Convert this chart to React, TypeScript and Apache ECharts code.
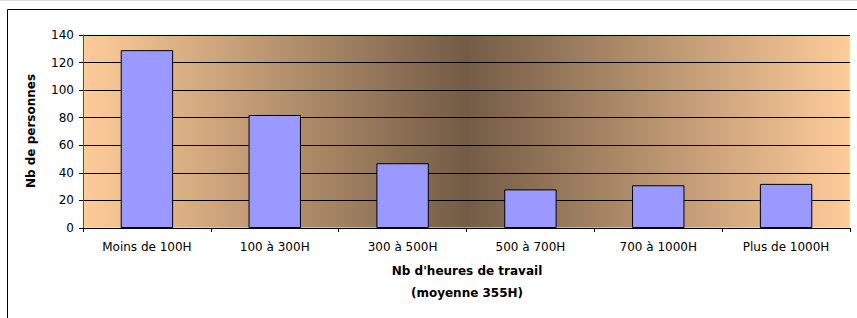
import React, { useEffect, useRef } from "react";
import * as echarts from "echarts";

const categories = ["Moins de 100H", "100 à 300H", "300 à 500H", "500 à 700H", "700 à 1000H", "Plus de 1000H"];
const values = [129, 82, 47, 28, 31, 32];
const yTitle = "Nb de personnes";
const xTitleLines = ["Nb d'heures de travail", "(moyenne 355H)"];

export default function App() {
  const ref = useRef<HTMLDivElement>(null);
  useEffect(() => {
    const chart = echarts.init(ref.current!, null, { renderer: "svg" });
    const font = "'DejaVu Sans', 'Liberation Sans', Arial, sans-serif";
    chart.setOption({
      animation: false,
      backgroundColor: "#ffffff",
      grid: {
        left: 83,
        top: 35,
        right: 7,
        bottom: 90,
        show: true,
        borderColor: "#ccffcc",
        borderWidth: 1,
        backgroundColor: {
          type: "linear",
          x: 0,
          y: 0,
          x2: 1,
          y2: 0,
          colorStops: [
            { offset: 0, color: "#fecc99" },
            { offset: 0.5, color: "#735c46" },
            { offset: 1, color: "#fecc9a" },
          ],
        },
      },
      xAxis: {
        type: "category",
        data: categories,
        axisLine: { lineStyle: { color: "#000", width: 1 } },
        axisTick: { show: true, length: 4, lineStyle: { color: "#000" }, alignWithLabel: false },
        axisLabel: { color: "#000", fontFamily: font, fontSize: 12, margin: 13 },
        splitLine: { show: false },
      },
      yAxis: {
        type: "value",
        min: 0,
        max: 140,
        interval: 20,
        axisLine: { show: true, lineStyle: { color: "#4a5a4a", width: 1 } },
        axisTick: { show: true, length: 4, lineStyle: { color: "#000" } },
        axisLabel: { color: "#000", fontFamily: font, fontSize: 12, margin: 9 },
        splitLine: { show: true, lineStyle: { color: "#000", width: 1 } },
      },
      series: [
        {
          type: "bar",
          data: values,
          barCategoryGap: "59%",
          itemStyle: { color: "#9999ff", borderColor: "#000", borderWidth: 1 },
        },
      ],
      graphic: [
        {
          type: "rect",
          shape: { x: 0, y: 0, width: 857, height: 1 },
          style: { fill: "#dddddd" },
          silent: true,
        },
        {
          type: "rect",
          shape: { x: 7.5, y: 9.5, width: 1000, height: 500 },
          style: { fill: "none", stroke: "#000", lineWidth: 1 },
          silent: true,
          z: 100,
        },
        {
          type: "text",
          x: 31,
          y: 131,
          rotation: Math.PI / 2,
          style: {
            text: yTitle,
            fontFamily: font,
            fontSize: 12,
            fontWeight: "bold",
            fill: "#000",
            align: "center",
            verticalAlign: "middle",
          },
        },
        {
          type: "text",
          x: 467,
          y: 271,
          style: {
            text: xTitleLines[0],
            fontFamily: font,
            fontSize: 12,
            fontWeight: "bold",
            fill: "#000",
            align: "center",
            verticalAlign: "middle",
          },
        },
        {
          type: "text",
          x: 467,
          y: 293,
          style: {
            text: xTitleLines[1],
            fontFamily: font,
            fontSize: 12,
            fontWeight: "bold",
            fill: "#000",
            align: "center",
            verticalAlign: "middle",
          },
        },
      ],
    });
    return () => chart.dispose();
  }, []);
  return <div ref={ref} style={{ position: "fixed", left: 0, top: 0, width: 857, height: 318 }} />;
}
